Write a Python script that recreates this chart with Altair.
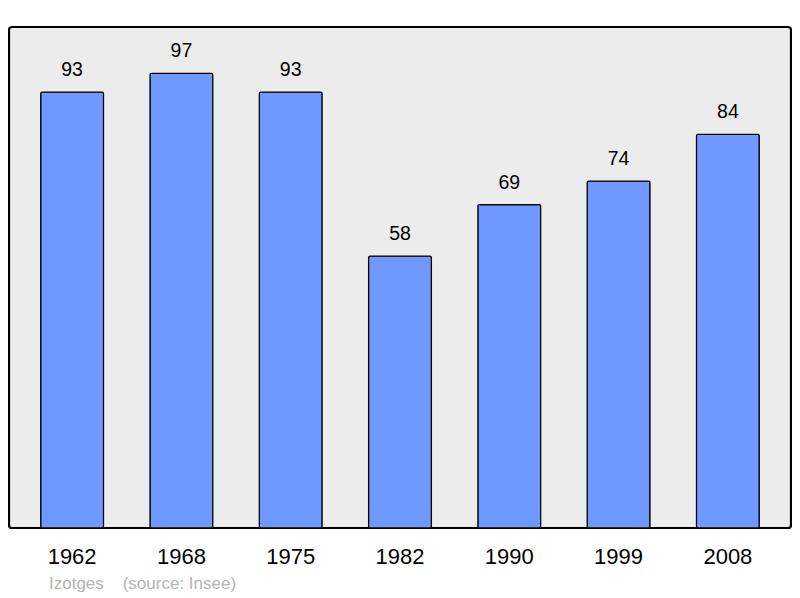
import altair as alt
import pandas as pd

years = ["1962", "1968", "1975", "1982", "1990", "1999", "2008"]
values = [93, 97, 93, 58, 69, 74, 84]

df = pd.DataFrame({"year": years, "value": values})

x = alt.X("year:N", sort=years, title=None,
          scale=alt.Scale(paddingInner=0.425, paddingOuter=0.29),
          axis=alt.Axis(domain=False, ticks=False, labelAngle=0, labelFontSize=22,
                        labelFont="Liberation Sans", labelColor="#000000", labelPadding=18))
y = alt.Y("value:Q", title=None, scale=alt.Scale(domain=[0, 106.9], nice=False), axis=None)

bars = alt.Chart(df).mark_bar(color="#7099ff", stroke="#000000", strokeWidth=1.2,
                              cornerRadius=1.5).encode(x=x, y=y)
labels = alt.Chart(df).mark_text(baseline="bottom", dy=-12, fontSize=19.5,
                                 font="Liberation Sans", color="#000000").encode(
    x=x, y=y, text="value:Q")
footer = alt.Chart(pd.DataFrame({"t": ["Izotges\u00a0\u00a0\u00a0\u00a0(source: Insee)"]})).mark_text(
    align="left", baseline="middle", fontSize=17, font="Liberation Sans", color="#b4b4b4"
).encode(x=alt.value(40), y=alt.value(557), text="t:N")

chart = alt.layer(bars, labels, footer).properties(
    width=782, height=501,
    autosize=alt.AutoSizeParams(type="none"),
    padding={"left": 1, "top": 19, "right": 1, "bottom": 69},
    background="#ffffff",
).configure_view(fill="#ececec", stroke="#000000", strokeWidth=2.2, cornerRadius=3)

chart.save("out.html", embed_options={"renderer": "svg", "actions": False})
